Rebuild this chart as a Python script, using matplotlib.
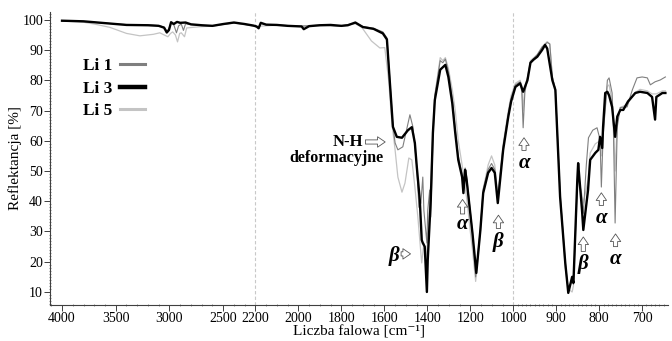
import numpy as np
import matplotlib
matplotlib.use("Agg")
import matplotlib.pyplot as plt
from matplotlib.ticker import FixedLocator, NullFormatter
from matplotlib.lines import Line2D

plt.rcParams['font.family'] = ['Liberation Serif', 'DejaVu Serif']

# wavenumbers [cm-1] and reflectance [%]
w_li3 = [4000, 3800, 3600, 3400, 3200, 3100, 3050, 3025, 3005, 2985, 2960, 2930, 2900, 2850,
         2800, 2700, 2600, 2500, 2400, 2300, 2220, 2195, 2185, 2175, 2150, 2100, 2050, 1985,
         1975, 1950, 1900, 1850, 1800, 1770, 1735, 1700, 1650, 1607, 1588, 1574, 1560, 1542,
         1518, 1490, 1472, 1458, 1449, 1435, 1426, 1421, 1412, 1402, 1398, 1384, 1374, 1365,
         1340, 1316, 1302, 1284, 1270, 1256, 1238, 1232, 1224, 1217, 1190, 1172, 1153, 1140,
         1117, 1101, 1086, 1072, 1047, 1023, 1010, 995, 984, 977, 967, 960, 953, 944, 933, 926,
         921, 909, 902, 891, 879, 872, 863, 860, 851, 849, 840, 837, 826, 821, 809, 802, 798,
         793, 791, 786, 781, 777, 770, 763, 758, 751, 744, 733, 716, 705, 688, 677, 670, 667,
         653, 646]
r_li3 = [99.7, 99.5, 98.9, 98.3, 98.2, 98.0, 97.4, 95.8, 96.6, 99.2, 98.6, 99.3, 99.0, 99.1,
         98.5, 98.2, 98.0, 98.6, 99.1, 98.6, 98.1, 97.8, 97.2, 99.0, 98.4, 98.3, 98.0, 97.8,
         96.9, 97.9, 98.2, 98.3, 98.0, 98.2, 99.1, 97.6, 97.0, 95.5, 93.5, 79.0, 64.6, 61.3,
         61.0, 63.5, 64.5, 59.3, 51.4, 40.4, 27.2, 26.2, 25.0, 10.0, 20.6, 40.4, 62.6, 73.5,
         83.5, 85.1, 81.1, 72.5, 62.6, 53.7, 48.0, 42.7, 50.4, 47.0, 29.5, 16.3, 30.5, 42.7,
         49.4, 51.0, 49.4, 39.4, 57.0, 68.0, 73.0, 77.8, 79.0, 76.2, 80.0, 85.8, 86.8, 87.8, 90.0, 91.7,
         90.5, 80.0, 76.8, 41.4, 19.6, 9.7, 15.0, 13.0, 47.0, 52.6, 37.0, 30.5, 43.7, 53.7, 56.0, 57.0, 61.3,
         57.6, 64.6, 75.8, 76.2, 75.0, 71.2, 61.3, 68.0, 70.2, 70.2, 73.0, 75.8, 76.2, 75.8, 74.5, 67.0, 74.5,
         75.8, 75.8]

w_li1 = [4000, 3800, 3600, 3400, 3200, 3100, 3050, 3025, 3005, 2985, 2960, 2935, 2915, 2890,
         2870, 2850, 2800, 2700, 2600, 2500, 2400, 2300, 2220, 2195, 2185, 2175, 2150, 2100,
         2000, 1900, 1800, 1735, 1700, 1650, 1607, 1588, 1574, 1560, 1550, 1537, 1514, 1481,
         1467, 1449, 1439, 1430, 1421, 1416, 1402, 1398, 1389, 1384, 1374, 1365, 1340, 1328,
         1316, 1302, 1284, 1270, 1256, 1238, 1232, 1224, 1217, 1190, 1175, 1153, 1140, 1117,
         1101, 1086, 1072, 1047, 1023, 1010, 995, 984, 980, 977, 973, 967, 960, 944, 933, 921,
         915, 909, 902, 891, 879, 872, 863, 860, 851, 849, 840, 837, 830, 825, 815, 805, 798,
         795, 791, 781, 777, 770, 767, 763, 758, 751, 735, 723, 712, 700, 688, 681, 670, 658, 646]
r_li1 = [99.6, 99.4, 98.9, 98.4, 98.3, 98.1, 97.6, 96.3, 97.0, 99.0, 98.4, 95.7, 98.0, 98.6,
         96.5, 98.7, 98.4, 98.1, 98.0, 98.5, 99.0, 98.5, 98.0, 97.8, 97.4, 98.8, 98.4, 98.3,
         97.9, 98.2, 98.0, 98.9, 97.8, 97.2, 96.0, 94.0, 80.0, 65.0, 59.3, 57.0, 58.0, 68.6,
         64.6, 51.4, 38.0, 39.4, 48.0, 37.0, 26.2, 37.0, 43.7, 34.8, 60.3, 75.0, 86.5, 85.8,
         87.0, 83.0, 74.0, 64.0, 55.0, 49.0, 45.0, 51.0, 48.0, 30.0, 15.0, 31.0, 44.0, 50.5,
         52.5, 50.5, 41.0, 58.0, 69.0, 74.0, 78.5, 79.5, 76.0, 64.3, 76.0, 80.5, 86.0, 88.5, 91.0, 92.5,
         92.0, 81.0, 77.0, 42.0, 20.0, 10.5, 14.0, 12.5, 46.0, 50.4, 40.0, 36.0, 52.0, 61.0, 63.5, 64.3, 60.3,
         44.7, 61.3, 80.0, 80.8, 75.8, 64.6, 32.8, 64.6, 71.0, 71.2, 76.8, 80.8, 81.1, 80.8, 78.5, 79.5, 80.1, 81.1]

w_li5 = [4000, 3800, 3700, 3555, 3400, 3275, 3150, 3090, 3015, 2990, 2970, 2945, 2925, 2905,
         2890, 2860, 2840, 2720, 2600, 2500, 2400, 2300, 2200, 2100, 2000, 1900, 1800, 1735,
         1705, 1660, 1621, 1598, 1580, 1565, 1550, 1537, 1518, 1504, 1486, 1472, 1458, 1444,
         1430, 1426, 1416, 1407, 1398, 1384, 1374, 1365, 1340, 1328, 1316, 1302, 1284, 1270,
         1256, 1238, 1230, 1215, 1200, 1190, 1175, 1153, 1140, 1117, 1101, 1086, 1072, 1047,
         1023, 1010, 995, 984, 980, 977, 973, 967, 960, 944, 933, 921, 915, 909, 902, 891, 879,
         872, 863, 860, 851, 849, 840, 837, 826, 821, 809, 798, 795, 791, 781, 777, 770, 767,
         763, 758, 751, 735, 716, 705, 688, 677, 667, 653, 646]
r_li5 = [99.6, 99.2, 98.6, 97.5, 95.5, 94.7, 95.2, 95.7, 94.4, 95.5, 96.0, 95.0, 92.7, 95.5,
         95.7, 94.4, 97.3, 97.7, 97.9, 98.4, 98.9, 98.4, 97.8, 98.2, 97.8, 98.1, 97.9, 98.7,
         97.5, 93.0, 90.7, 90.8, 80.0, 66.0, 57.0, 48.0, 43.0, 46.0, 54.3, 53.7, 44.8, 34.8,
         22.9, 19.6, 26.2, 20.6, 27.2, 46.0, 63.0, 75.0, 87.5, 86.5, 87.5, 84.0, 77.0, 70.0,
         60.0, 52.0, 48.0, 40.0, 30.0, 24.0, 13.5, 30.0, 44.0, 52.0, 55.0, 52.0, 42.0, 59.0,
         70.0, 75.0, 79.0, 80.0, 78.0, 70.0, 78.0, 81.0, 86.5, 88.5, 91.0, 92.8, 92.0, 81.0, 77.0, 43.0, 18.0,
         11.0, 10.0, 12.0, 44.0, 48.0, 42.0, 39.4, 47.0, 56.0, 59.0, 60.0, 55.0, 63.0, 78.0, 78.5, 73.0, 66.0,
         50.0, 66.0, 71.0, 72.0, 76.0, 77.0, 76.5, 75.5, 75.5, 76.5, 76.5]

major_ticks = [4000, 3500, 3000, 2500, 2200, 2000, 1800, 1600, 1400, 1200, 1000, 900, 800, 700]

# piecewise axis: 4000-2200 compressed x4, 2200-1000 x2, below 1000 full scale
XP = [0, 1000, 2200, 5000]
FP = [0, 1000, 1600, 2300]


def fwd(w):
    return np.interp(w, XP, FP)


def inv(u):
    return np.interp(u, FP, XP)


fig = plt.figure(figsize=(6.72, 3.41), dpi=100)
ax = fig.add_axes([0.0744, 0.1056, 0.9196, 0.8594])
ax.set_xscale('function', functions=(fwd, inv))

for wl in (2200, 1000):
    ax.axvline(wl, color='#c8c8c8', ls=(0, (3, 2)), lw=0.8, zorder=0)

ax.plot(w_li5, r_li5, color='#c4c4c4', lw=0.9)
ax.plot(w_li1, r_li1, color='#7f7f7f', lw=0.8)
ax.plot(w_li3, r_li3, color='black', lw=1.7)

ax.set_xlim(4112, 640)
ax.set_ylim(5.7, 102.6)

ax.xaxis.set_major_locator(FixedLocator(major_ticks))
minor = list(np.arange(2300, 4101, 100)) + list(np.arange(1050, 2200, 50)) + list(np.arange(650, 1000, 10))
ax.xaxis.set_minor_locator(FixedLocator(minor))
ax.xaxis.set_minor_formatter(NullFormatter())
ax.set_xticklabels([str(t) for t in major_ticks])
ax.set_yticks(np.arange(10, 101, 10))
ax.set_yticks(np.arange(6, 103, 1), minor=True)

ax.tick_params(axis='both', which='major', labelsize=10, length=4, width=0.7, color='#404040', pad=1)
ax.tick_params(axis='both', which='minor', length=2, width=0.5, color='#606060', direction='inout')
for s in ('top', 'right'):
    ax.spines[s].set_visible(False)
for s in ('left', 'bottom'):
    ax.spines[s].set_color('#404040')
    ax.spines[s].set_linewidth(0.8)

ax.set_ylabel('Reflektancja [%]', fontsize=11, labelpad=0)
ax.set_xlabel('Liczba falowa [cm\u207b\u00b9]', fontsize=11, labelpad=0)

handles = [Line2D([], [], color='#7f7f7f', lw=2.2),
           Line2D([], [], color='black', lw=3.2),
           Line2D([], [], color='#c4c4c4', lw=2.2)]
ax.legend(handles, ['Li 1', 'Li 3', 'Li 5'], loc='upper left', bbox_to_anchor=(0.028, 0.895),
          frameon=False, markerfirst=False, handlelength=1.45, handletextpad=0.45, labelspacing=0.35,
          prop={'weight': 'bold', 'size': 12.5})

bold = dict(fontweight='bold', color='black')
greek = dict(fontweight='bold', fontstyle='italic', fontsize=15, ha='center', va='center')
hollow = dict(arrowstyle='simple,head_length=0.55,head_width=0.75,tail_width=0.3',
              fc='white', ec='#555555', lw=0.6, shrinkA=0, shrinkB=0)

ax.text(1700, 59.6, 'N-H', ha='right', va='center', fontsize=12, **bold)
ax.annotate('', xy=(1596, 59.6), xytext=(1688, 59.6), arrowprops=hollow)
ax.text(1822, 54.4, 'deformacyjne', ha='center', va='center', fontsize=11.5, **bold)

ax.text(1555, 21.8, 'β', **greek)
ax.annotate('', xy=(1478, 22.6), xytext=(1522, 22.6), arrowprops=hollow)

labels = [(1236, 35.8, 40.6, 32.4, 'α'), (1069, 31.0, 35.4, 26.5, 'β'),
          (975, 56.8, 61.0, 52.8, 'α'), (837, 23.4, 28.2, 19.2, 'β'),
          (795, 38.6, 42.8, 34.6, 'α'), (762, 25.0, 29.2, 20.8, 'α')]
for wl, y0, y1, yt, g in labels:
    ax.annotate('', xy=(wl, y1), xytext=(wl, y0), arrowprops=hollow)
    ax.text(wl, yt, g, **greek)

fig.savefig('out.png', dpi=100)
